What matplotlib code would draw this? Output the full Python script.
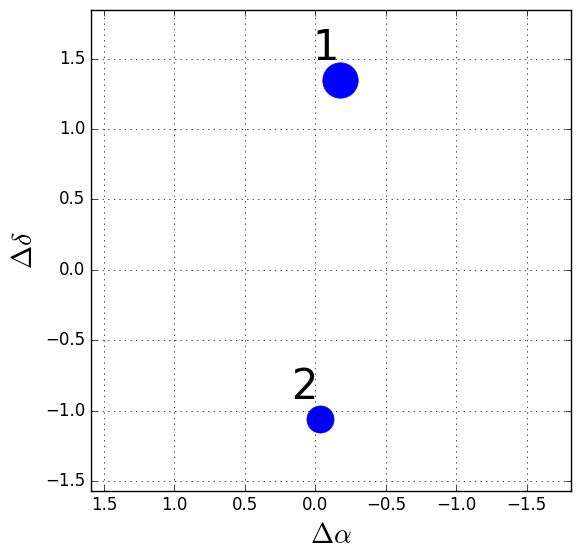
import matplotlib
matplotlib.use("Agg")
import matplotlib.pyplot as plt

# source offsets (arcsec) and labels
labels = ["1", "2"]
d_ra = [-0.177, -0.03]
d_dec = [1.35, -1.06]
sizes = [25.5, 19.5]

plt.style.use("classic")

fig = plt.figure(figsize=(5.8, 5.58), dpi=100, facecolor="white")
ax = fig.add_axes([0.157, 0.1206, 0.827, 0.8614])

# plot the sources
for lab, x, y, s in zip(labels, d_ra, d_dec, sizes):
    ax.plot(x, y, "o", color="blue", markeredgecolor="blue", markersize=s)
    ax.text(x + 0.01, y + 0.14, lab, fontsize=30, ha="right", va="baseline")

# limits (RA increases to the left)
ax.set_xlim(1.592, -1.812)
ax.set_ylim(-1.569, 1.845)

ax.set_xlabel(r"$\Delta\alpha$", fontsize=20)
ax.set_ylabel(r"$\Delta\delta$", fontsize=20)
ax.grid(True)

fig.savefig("out.png", dpi=100, facecolor="white")
